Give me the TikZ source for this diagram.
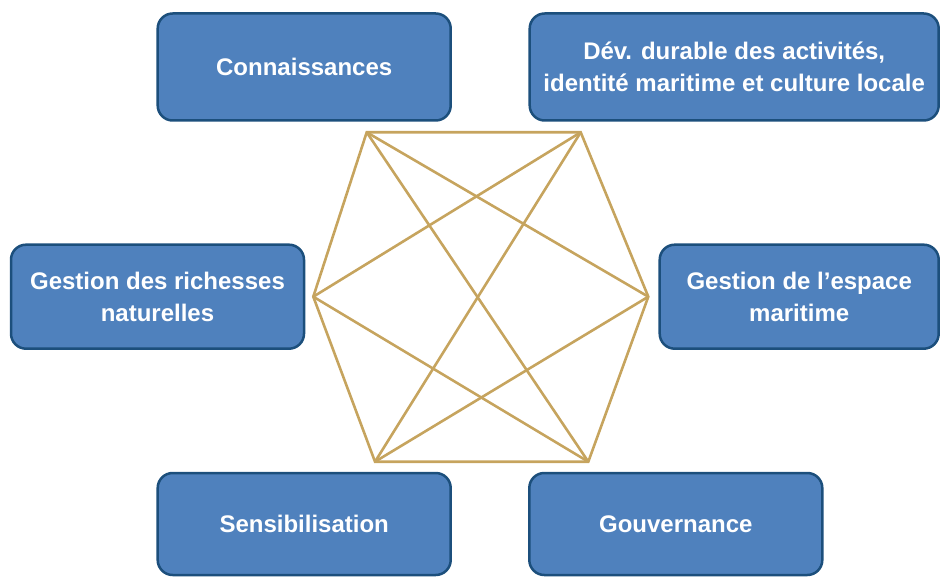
\documentclass[tikz,border=0pt]{standalone}
\usepackage{fontspec}
\setmainfont{Liberation Sans}
\definecolor{boxfill}{HTML}{4F81BD}
\definecolor{boxedge}{HTML}{1C4F7C}
\definecolor{gold}{HTML}{C6A45E}
\begin{document}
\begin{tikzpicture}[x=1pt,y=-1pt,
  theme/.style={draw=boxedge, fill=boxfill, line width=2.5pt, rounded corners=15pt,
    align=center, text=white, font=\fontsize{24}{32}\selectfont\bfseries, inner sep=0pt},
  link/.style={draw=gold, line width=2.6pt}]
\useasboundingbox (0,0) rectangle (941,577);
\node[theme, minimum width=293pt, minimum height=107pt] (con) at (304.2,67) {Connaissances};
\node[theme, minimum width=409pt, minimum height=107pt] (dev) at (734.2,67) {Dév. durable des activités,\\identité maritime et culture locale};
\node[theme, minimum width=293pt, minimum height=104pt] (ric) at (157.5,296.7) {Gestion des richesses\\naturelles};
\node[theme, minimum width=279pt, minimum height=104pt] (esp) at (799.2,296.7) {Gestion de l’espace\\maritime};
\node[theme, minimum width=293pt, minimum height=102pt] (sen) at (304.2,524) {Sensibilisation};
\node[theme, minimum width=293pt, minimum height=102pt] (gou) at (675.8,524) {Gouvernance};
\coordinate (tl) at (366.7,132.3);
\coordinate (tr) at (580.7,132.3);
\coordinate (r) at (648.3,296.7);
\coordinate (br) at (588.3,461.7);
\coordinate (bl) at (375,461.7);
\coordinate (l) at (313.3,296.7);
\draw[link, line join=miter] (tl) -- (tr) -- (r) -- (br) -- (bl) -- (l) -- cycle;
\draw[link] (tl) -- (r);
\draw[link] (tl) -- (br);
\draw[link] (tr) -- (l);
\draw[link] (tr) -- (bl);
\draw[link] (l) -- (br);
\draw[link] (r) -- (bl);
\end{tikzpicture}
\end{document}
